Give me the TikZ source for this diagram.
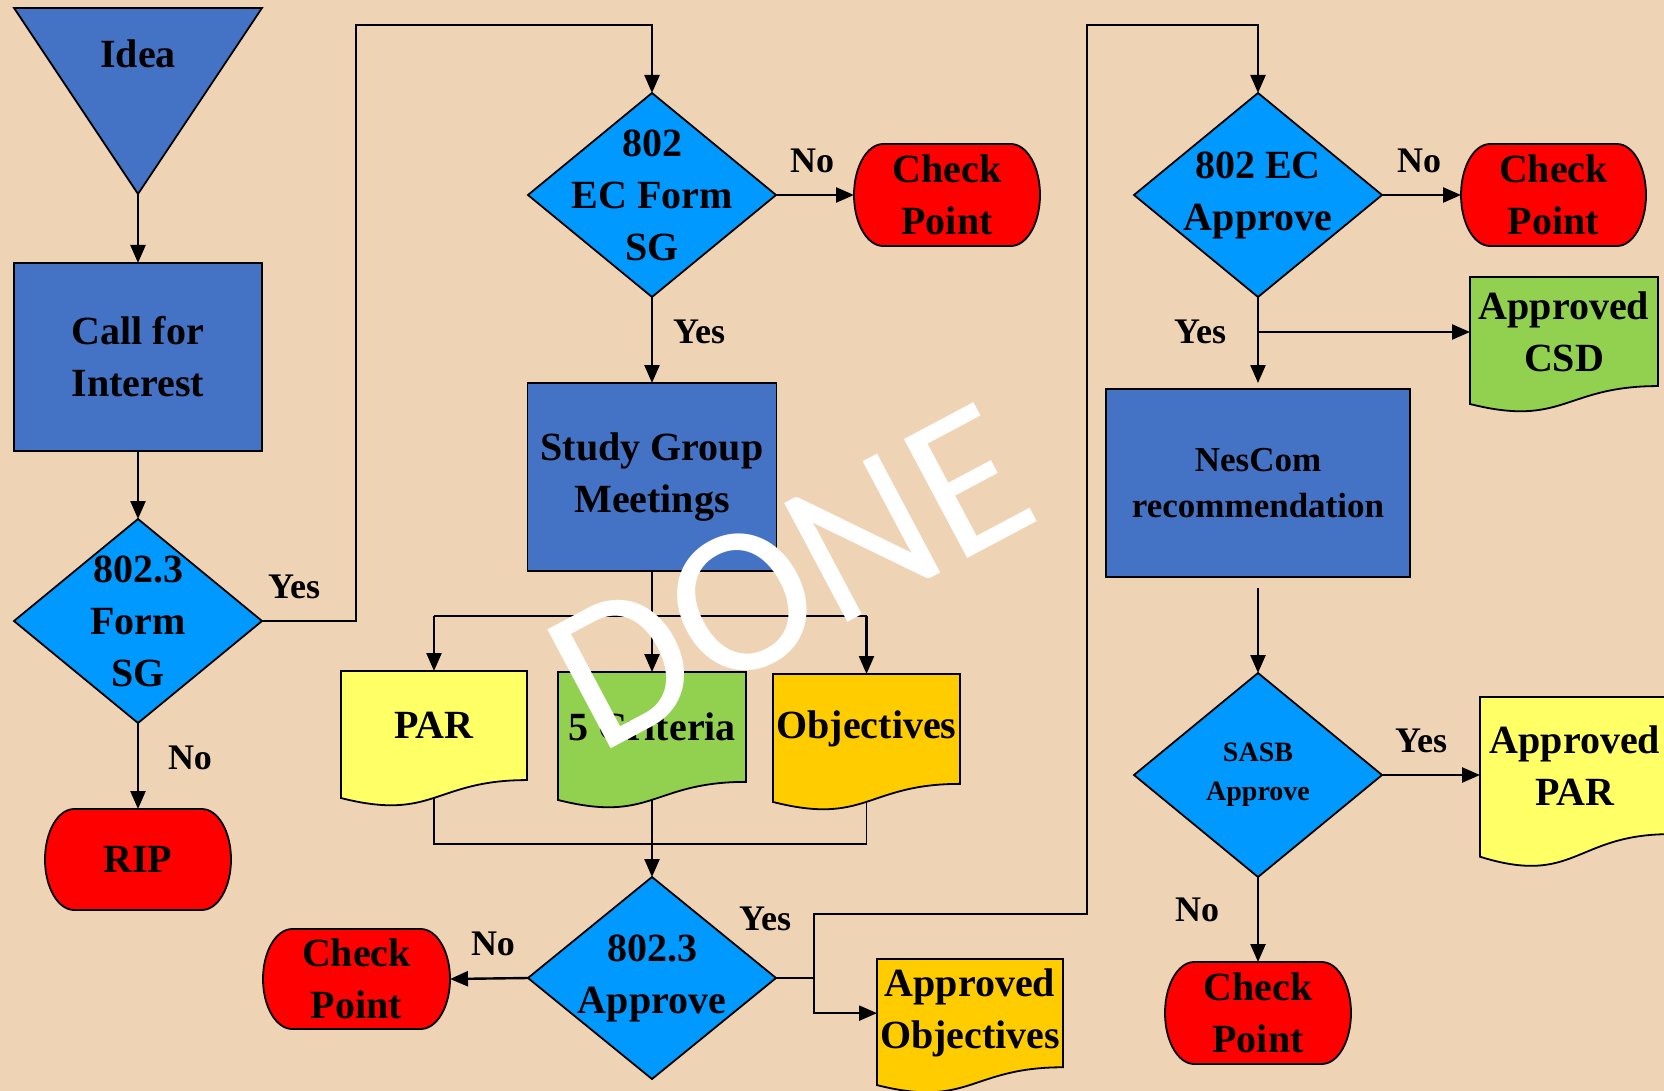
\documentclass[tikz,border=0pt]{standalone}
\usepackage{fontspec}
\setmainfont{Liberation Serif}
\newfontfamily\donefont{Carlito}
\usetikzlibrary{arrows.meta,calc}
\definecolor{bg}{RGB}{239,211,181}
\definecolor{rectblue}{HTML}{4472C4}
\definecolor{diamblue}{HTML}{0099FF}
\definecolor{cpred}{HTML}{FF0000}
\definecolor{docyellow}{HTML}{FFFF66}
\definecolor{docgreen}{HTML}{92D050}
\definecolor{docgold}{HTML}{FFCC00}
\newcommand\mainf{\bfseries\fontsize{40}{52}\selectfont}
\newcommand\lblf{\bfseries\fontsize{36}{40}\selectfont}
\newcommand\nesf{\bfseries\fontsize{35}{46}\selectfont}
\newcommand\sasbf{\bfseries\fontsize{28}{39}\selectfont}
\tikzset{
  shp/.style={draw=black, line width=1.8pt, line join=miter},
  box/.style={shp, fill=rectblue, inner sep=0pt, outer sep=0pt, align=center, font=\mainf},
  txt/.style={inner sep=0pt, outer sep=0pt, align=center},
  lbl/.style={inner sep=0pt, font=\lblf},
  arr/.style={line width=2.4pt, -{Triangle[length=18pt,width=15pt]}},
  thinln/.style={line width=1.3pt},
}
% diamond: [font]{name}{cx}{cy}{half w}{half h}{text}
\newcommand\DiamShape[7][\mainf]{%
  \filldraw[shp,fill=diamblue] (#3-#5,#4) -- (#3,#4-#6) -- (#3+#5,#4) -- (#3,#4+#6) -- cycle;
  \pgfmathsetmacro\myDW{2*#5}\pgfmathsetmacro\myDH{2*#6}%
  \node[txt,font=#1,minimum width=\myDW pt,minimum height=\myDH pt] (#2) at (#3,#4) {#7};
}
% terminator: {name}{x0}{y0}{x1}{y1}{text}
\newcommand\TermShape[6]{%
  \pgfmathsetmacro\myRX{0.157*(#4-#2)}%
  \pgfmathsetmacro\myRY{(#5-#3)/2}%
  \pgfmathsetmacro\myYM{(#3+#5)/2}%
  \pgfmathsetmacro\myKX{0.5523*\myRX}%
  \pgfmathsetmacro\myKY{0.5523*\myRY}%
  \filldraw[shp,fill=cpred] (#2+\myRX,#3) -- (#4-\myRX,#3)
    .. controls (#4-\myRX+\myKX,#3) and (#4,\myYM-\myKY) .. (#4,\myYM)
    .. controls (#4,\myYM+\myKY) and (#4-\myRX+\myKX,#5) .. (#4-\myRX,#5)
    -- (#2+\myRX,#5)
    .. controls (#2+\myRX-\myKX,#5) and (#2,\myYM+\myKY) .. (#2,\myYM)
    .. controls (#2,\myYM-\myKY) and (#2+\myRX-\myKX,#3) .. (#2+\myRX,#3) -- cycle;
  \pgfmathsetmacro\myTW{#4-#2}\pgfmathsetmacro\myTH{#5-#3}%
  \node[txt,font=\mainf,minimum width=\myTW pt,minimum height=\myTH pt] (#1) at ({(#2+#4)/2},\myYM) {#6};
}
% document: {name}{x0}{x1}{top}{H}{fill}{text}
\newcommand\DocShape[7]{%
  \pgfmathsetmacro\myDA{#4+0.802*#5}%
  \pgfmathsetmacro\myDB{#4+1.1076*#5}%
  \pgfmathsetmacro\myDC{#4+0.934*#5}%
  \pgfmathsetmacro\myDM{(#2+#3)/2}%
  \filldraw[shp,fill=#6] (#2,#4) -- (#3,#4) -- (#3,\myDA) .. controls (\myDM,\myDA) and (\myDM,\myDB) .. (#2,\myDC) -- cycle;
  \pgfmathsetmacro\myDW{#3-#2}\pgfmathsetmacro\myDH{0.802*#5}\pgfmathsetmacro\myDY{#4+0.401*#5}%
  \node[txt,font=\mainf,minimum width=\myDW pt,minimum height=\myDH pt] (#1) at (\myDM,\myDY) {#7};
  \coordinate (#1-b) at (\myDM,{#4+0.933*#5});
}
\begin{document}
\begin{tikzpicture}[x=1pt,y=-1pt]
\useasboundingbox (0,0) rectangle (1664,1091);
\fill[bg] (0,0) rectangle (1664,1091);
\clip (0,0) rectangle (1664,1091);

% ---- column 1
\filldraw[shp,fill=rectblue] (14,8) -- (262,8) -- (138,194) -- cycle;
\node[font=\mainf, inner sep=0pt, outer sep=0pt, minimum width=248pt, text height=60pt, text depth=126pt] (idea) at (138,101) {Idea};
\node[box, minimum width=248pt, minimum height=188pt] (call) at (138,357) {Call for\\Interest};
\DiamShape{fsg}{138}{621}{124}{102}{802.3\\Form\\SG}
\TermShape{rip}{45}{809}{231}{910}{RIP}

% ---- column 2
\DiamShape{ecf}{652}{195}{124}{102}{802\\EC Form\\SG}
\TermShape{cp1}{854}{144}{1040}{246}{Check\\Point}
\node[box, minimum width=249pt, minimum height=188pt] (study) at (652,477) {Study Group\\Meetings};
\DocShape{par}{341}{527}{671}{136}{docyellow}{PAR}
\DocShape{cri}{558}{746}{672}{137}{docgreen}{5 Criteria}
\DocShape{obj}{773}{960}{674}{137}{docgold}{Objectives}
\DiamShape{apv}{652}{978}{124}{101}{802.3\\Approve}
\TermShape{cp2}{263}{929}{450}{1029}{Check\\Point}
\DocShape{aob}{877}{1063}{959}{135}{docgold}{Approved\\Objectives}

% ---- column 3
\DiamShape{ecap}{1258}{195}{124}{102}{802 EC\\Approve}
\TermShape{cp3}{1461}{144}{1646}{246}{Check\\Point}
\DocShape{csd}{1470}{1658}{277}{136}{docgreen}{Approved\\CSD}
\node[box, font=\nesf, minimum width=304pt, minimum height=188pt] (nes) at (1258,483) {NesCom\\recommendation};
\DiamShape[\sasbf]{sasb}{1258}{775}{124}{102}{SASB\\Approve}
\DocShape{apar}{1480}{1670}{697}{171}{docyellow}{Approved\\PAR}
\TermShape{cp4}{1165}{962}{1351}{1064}{Check\\Point}

% ---- connectors
\draw[arr] (idea.south) -- (call.north);
\draw[arr] (call.south) -- (fsg.north);
\draw[arr] (fsg.south) -- (rip.north);
\draw[arr] (fsg.east) -| (356,25) -| (ecf.north);
\draw[arr] (ecf.east) -- (cp1.west);
\draw[arr] (ecf.south) -- (study.north);
\draw[arr] (study.south) -- (cri.north);
\draw[thinln] (par.north |- 0,616) -- (obj.north |- 0,616);
\draw[arr] (par.north |- 0,616) -- (par.north);
\draw[arr] (obj.north |- 0,616) -- (obj.north);
\draw[thinln] (par-b) -- (par-b |- 0,844) -| (obj-b);
\draw[arr] (cri-b) -- (apv.north);
\draw[arr] (apv.west) -- (cp2.east);
\coordinate (yj) at (814,978);
\draw[arr] (apv.east) -- (yj) |- (1087,914) |- (ecap.north |- 0,25) -- (ecap.north);
\draw[arr] (yj) |- (aob.west);
\draw[arr] (ecap.east) -- (cp3.west);
\draw[arr, shorten >=6pt] (ecap.south) -- (nes.north);
\draw[arr] (ecap.south) ++(0,35) coordinate (ybr) -- (ybr -| csd.west);
\draw[arr] ([yshift=-11pt]nes.south) -- (sasb.north);
\draw[arr] (sasb.east) -- (sasb.east -| apar.west);
\draw[arr] (sasb.south) -- (cp4.north);

% ---- labels
\node[lbl] (l1) at (294,587) {Yes};
\node[lbl] (l2) at (190,758) {No};
\node[lbl] (l3) at (812,161) {No};
\node[lbl] (l4) at (699,332) {Yes};
\node[lbl] (l5) at (493,944) {No};
\node[lbl] (l6) at (765,919) {Yes};
\node[lbl] (l7) at (1419,161) {No};
\node[lbl] (l8) at (1200,332) {Yes};
\node[lbl] (l9) at (1421,741) {Yes};
\node[lbl] (l10) at (1197,910) {No};

% ---- watermark
\node[text=white, font=\donefont\fontsize{210}{210}\selectfont, rotate=28, inner sep=0pt] (done) at (790,577) {DONE};
\end{tikzpicture}
\end{document}
